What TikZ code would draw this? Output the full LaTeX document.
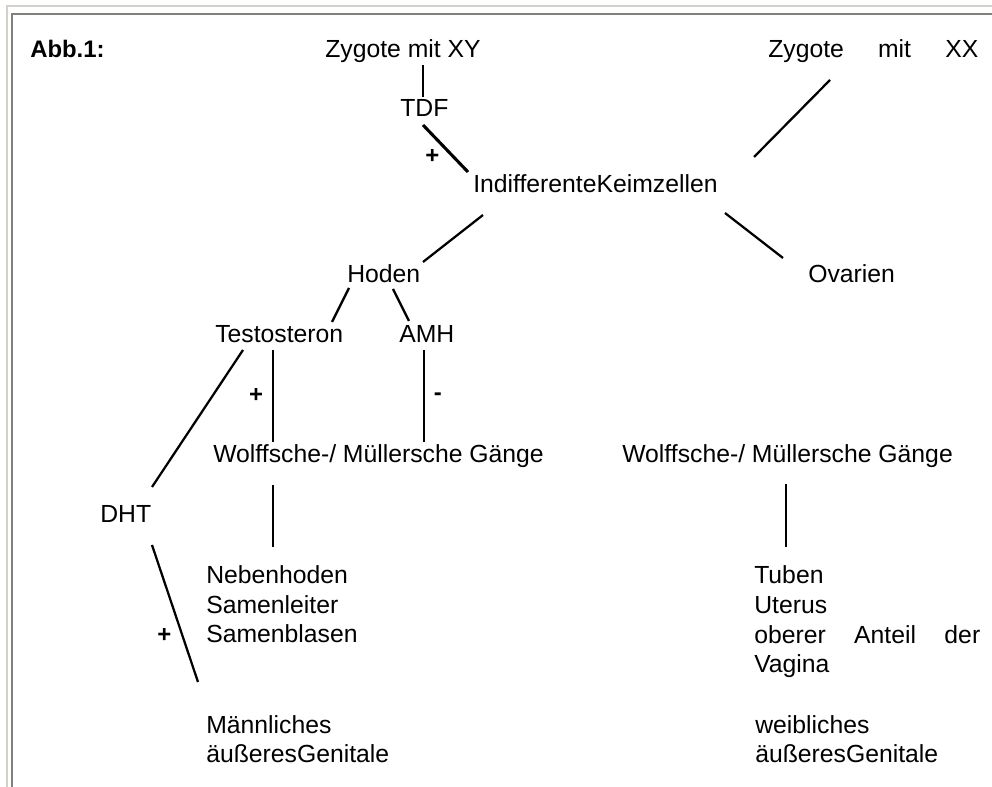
\documentclass[tikz,border=0pt]{standalone}
\usepackage{fontspec}
\setmainfont{Liberation Sans}
\usetikzlibrary{calc}
\definecolor{frameouter}{RGB}{212,208,200}
\definecolor{frameinner}{RGB}{128,128,128}
\begin{document}
\begin{tikzpicture}[x=0.25mm,y=-0.25mm,
    every node/.style={inner sep=0pt,anchor=base west,align=left,
      font=\fontsize{17.6}{21.3}\selectfont},
    link/.style={line width=1.6pt},
    sgn/.style={anchor=center,font=\fontsize{17}{20}\selectfont\bfseries}]
  \useasboundingbox(0,0)rectangle(992,787);
  \draw[frameouter,line width=0.5mm](7,787)--(7,6)--(992,6);
  \draw[frameinner,line width=0.5mm](12,787)--(12,14)--(992,14);
  % nodes (multi-line ones sit on their last line)
  \node[font=\fontsize{17}{20}\selectfont\bfseries](abb)at(30,58){Abb.1:};
  \node(zxy)at(325,58){Zygote mit XY};
  \node(zxx)at(768,58){\makebox[52.5mm][s]{Zygote mit XX}};
  \node(tdf)at(400,117){TDF};
  \node(ikz)at(473,193){IndifferenteKeimzellen};
  \node(hoden)at(347,283){Hoden};
  \node(ovar)at(808,283){Ovarien};
  \node(testo)at(215,343){Testosteron};
  \node(amh)at(399,343){AMH};
  \node(wmL)at(213,463){Wolffsche-/ Müllersche Gänge};
  \node(wmR)at(622,463){Wolffsche-/ Müllersche Gänge};
  \node(dht)at(100,523){DHT};
  \node(neb)at(206,643){Nebenhoden\\Samenleiter\\Samenblasen};
  \node(tub)at(754,673){Tuben\\Uterus\\\makebox[56.5mm][s]{oberer Anteil der}\\Vagina};
  \node(maenn)at(206,763){Männliches\\äußeresGenitale};
  \node(weib)at(755,763){weibliches\\äußeresGenitale};
  % connectors
  \draw[link]($(zxy.base west)+(98,7)$)--($(tdf.base west)+(23,-20)$);
  \draw[link,line width=2.2pt]($(tdf.base west)+(23,8)$)--node[sgn,pos=0.68,left=3.2mm]{+}($(ikz.base west)+(-5,-21)$);
  \draw[link]($(zxx.base west)+(62,22)$)--($(ikz.base west)+(281,-36)$);
  \draw[link]($(ikz.base west)+(10,22)$)--($(hoden.base west)+(76,-21)$);
  \draw[link]($(ikz.base west)+(252,20)$)--($(ovar.base west)+(-25,-25)$);
  \draw[link]($(hoden.base west)+(2,5)$)--($(testo.base west)+(117,-21)$);
  \draw[link]($(hoden.base west)+(46,6)$)--($(amh.base west)+(10,-22)$);
  \draw[link]($(testo.base west)+(58,7)$)--node[sgn,pos=0.49,left=2.2mm]{+}($(wmL.base west)+(60,-21)$);
  \draw[link]($(amh.base west)+(25,7)$)--node[sgn,pos=0.51,right=2.2mm]{-}($(wmL.base west)+(211,-21)$);
  \draw[link]($(testo.base west)+(28,7)$)--($(dht.base west)+(52,-36)$);
  \draw[link]($(dht.base west)+(52,22)$)--node[sgn,pos=0.66,left=2.5mm]{+}($(maenn.base west)+(-8,-81)$);
  \draw[link]($(wmL.base west)+(60,22)$)--($(neb.base west)+(67,-96)$);
  \draw[link]($(wmR.base west)+(164,21)$)--($(tub.base west)+(32,-126)$);
\end{tikzpicture}
\end{document}
